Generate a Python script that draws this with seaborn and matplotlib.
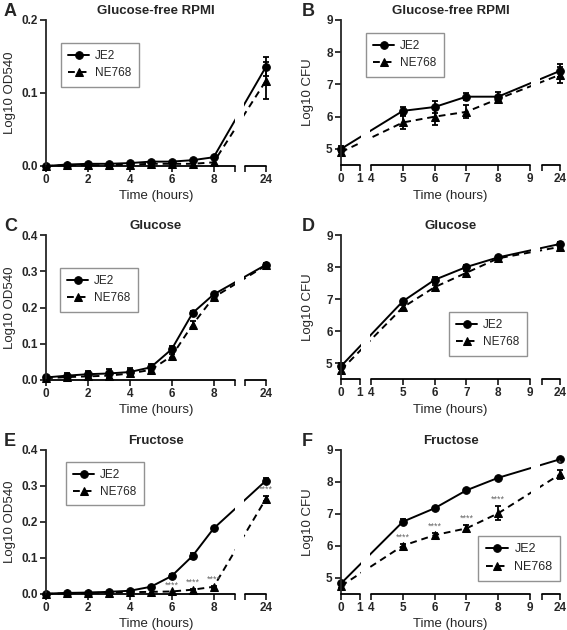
import numpy as np
import pandas as pd
import seaborn as sns
import matplotlib.pyplot as plt

# time points (hours)
t_od = [0, 1, 2, 3, 4, 5, 6, 7, 8, 24]
t_cfu = [0, 5, 6, 7, 8, 24]

# A: glucose-free RPMI, OD540
a_je2 = [0.0, 0.002, 0.003, 0.003, 0.004, 0.006, 0.006, 0.008, 0.012, 0.136]
a_je2_err = [0, 0, 0, 0, 0, 0, 0, 0, 0, 0.013]
a_ne = [0.0, 0.001, 0.001, 0.001, 0.002, 0.003, 0.003, 0.003, 0.005, 0.117]
a_ne_err = [0, 0, 0, 0, 0, 0, 0, 0, 0, 0.025]

# B: glucose-free RPMI, CFU
b_je2 = [5.0, 6.18, 6.3, 6.62, 6.62, 7.42]
b_je2_err = [0.1, 0.12, 0.2, 0.1, 0.15, 0.2]
b_ne = [4.9, 5.82, 6.0, 6.15, 6.55, 7.3]
b_ne_err = [0.1, 0.2, 0.25, 0.2, 0.1, 0.25]

# C: glucose, OD540
c_je2 = [0.007, 0.012, 0.016, 0.018, 0.022, 0.035, 0.085, 0.185, 0.236, 0.318]
c_je2_err = [0.005, 0.008, 0.01, 0.012, 0.01, 0.01, 0.008, 0.004, 0.004, 0.004]
c_ne = [0.005, 0.008, 0.01, 0.012, 0.018, 0.028, 0.066, 0.153, 0.228, 0.316]
c_ne_err = [0.004, 0.006, 0.008, 0.01, 0.01, 0.008, 0.006, 0.01, 0.005, 0.004]

# D: glucose, CFU
d_je2 = [4.9, 6.93, 7.6, 8.0, 8.3, 8.72]
d_je2_err = [0.1, 0.05, 0.1, 0.05, 0.05, 0.05]
d_ne = [4.78, 6.74, 7.37, 7.82, 8.27, 8.63]
d_ne_err = [0.1, 0.06, 0.08, 0.06, 0.05, 0.05]

# E: fructose, OD540
e_je2 = [0.001, 0.003, 0.004, 0.006, 0.009, 0.02, 0.05, 0.106, 0.182, 0.315]
e_je2_err = [0, 0, 0, 0, 0, 0.002, 0.006, 0.008, 0.003, 0.006]
e_ne = [0.0, 0.002, 0.003, 0.004, 0.005, 0.006, 0.007, 0.012, 0.02, 0.265]
e_ne_err = [0, 0, 0, 0, 0, 0, 0, 0.002, 0.002, 0.008]
e_stars = [6, 7, 8, 24]
e_star_labels = ['****', '****', '****', '****']

# F: fructose, CFU
f_je2 = [4.83, 6.76, 7.18, 7.74, 8.13, 8.71]
f_je2_err = [0.05, 0.07, 0.04, 0.03, 0.03, 0.03]
f_ne = [4.75, 6.01, 6.34, 6.55, 7.02, 8.24]
f_ne_err = [0.06, 0.05, 0.08, 0.12, 0.22, 0.14]
f_stars = [5, 6, 7, 8, 24]
f_star_labels = ['****', '****', '****', '****', '*']

sns.set_style('ticks')
plt.rcParams['font.family'] = ['Liberation Sans', 'DejaVu Sans']

W, H = 567, 630
fig = plt.figure(figsize=(W / 100, H / 100), dpi=100)


def make_scale(tp, up):
    tp = np.array(tp, float)
    up = np.array(up, float)
    fwd = lambda x: np.interp(np.asarray(x, float), tp, up)
    inv = lambda u: np.interp(np.asarray(u, float), up, tp)
    return fwd, inv


scale_od = make_scale([-10, 0, 9, 23, 24, 40], [-10, 0, 9, 9.5, 10.5, 26.5])
scale_cfu = make_scale([-10, 0, 1, 4, 9, 23, 24, 40],
                       [-6, 0, 0.6, 0.95, 5.95, 6.32, 6.9, 16.18])


def panel(rect, letter, title, times, je2, je2_err, ne, ne_err, kind,
          leg_anchor, leg_loc='upper left', leg_size=8.5, stars=None,
          star_labels=None):
    x0, y0, x1, y1 = rect
    ax = fig.add_axes([x0 / W, 1 - y1 / H, (x1 - x0) / W, (y1 - y0) / H])
    fwd, inv = scale_od if kind == 'od' else scale_cfu
    ax.set_xscale('function', functions=(fwd, inv))

    sns.lineplot(x=times, y=je2, ax=ax, color='black', marker='o',
                 markersize=5.5, markeredgecolor='black', linewidth=1.4,
                 label='JE2', clip_on=False)
    sns.lineplot(x=times, y=ne, ax=ax, color='black', marker='^',
                 markersize=5.5, markeredgecolor='black', linewidth=1.4,
                 linestyle=(0, (3.5, 2.5)), label='NE768', clip_on=False)
    for vals, errs in [(je2, je2_err), (ne, ne_err)]:
        idx = [i for i, e in enumerate(errs) if e > 0]
        ax.errorbar([times[i] for i in idx], [vals[i] for i in idx],
                    yerr=[errs[i] for i in idx], fmt='none', ecolor='black',
                    elinewidth=1.3, capsize=2.5, capthick=1.3, clip_on=False)

    if kind == 'od':
        segs = [(0, 9), (23, 24)]
        xt = [0, 2, 4, 6, 8, 9, 23, 24]
        xl = ['0', '2', '4', '6', '8', '', '', '24']
        top = 0.2 if letter == 'A' else 0.4
        ax.set_ylim(0, top)
        yt = list(np.round(np.arange(0, top + 0.001, 0.1), 1))
        ax.set_yticks(yt)
        ax.set_yticklabels([f'{v:.1f}' for v in yt])
        ax.set_ylabel('Log10 OD540', fontsize=9.5, labelpad=4)
    else:
        segs = [(0, 1), (4, 9), (23, 24)]
        xt = [0, 1, 4, 5, 6, 7, 8, 9, 23, 24]
        xl = ['0', '1', '4', '5', '6', '7', '8', '9', '', '24']
        ax.set_ylim(4.5, 9)
        ax.set_yticks([5, 6, 7, 8, 9])
        ax.set_yticklabels(['5', '6', '7', '8', '9'])
        ax.set_ylabel('Log10 CFU', fontsize=9.5, labelpad=9)
    ax.set_xlim(0, 24)
    ax.set_xticks(xt)
    ax.set_xticklabels(xl)
    ax.set_xlabel('Time (hours)', fontsize=9.5, labelpad=3)

    # broken x axis
    ax.spines['bottom'].set_visible(False)
    for s in ['top', 'right']:
        ax.spines[s].set_visible(False)
    ax.spines['left'].set_linewidth(1.3)
    for a, b in segs:
        ax.plot([a, b], [0, 0], transform=ax.get_xaxis_transform(),
                color='black', lw=1.3, clip_on=False, zorder=3)
    for (a, b), (c, d) in zip(segs[:-1], segs[1:]):
        lo = float(inv(fwd(b) + 0.04))
        hi = float(inv(fwd(c) - 0.04))
        ax.axvspan(lo, hi, color='white', lw=0, zorder=2.6)

    ax.tick_params(direction='out', length=4, width=1.3, labelsize=8.5, pad=2)
    for lab in ax.get_xticklabels() + ax.get_yticklabels():
        lab.set_fontweight('bold')

    if stars:
        dy = 0.015 * (ax.get_ylim()[1] - ax.get_ylim()[0])
        for t, s in zip(stars, star_labels):
            i = times.index(t)
            ax.text(t, ne[i] + ne_err[i] + dy, s, ha='center',
                    va='bottom', fontsize=6.5, color='#666666', zorder=4,
                    clip_on=False)

    leg = ax.legend(loc=leg_loc, bbox_to_anchor=leg_anchor,
                    borderaxespad=0, fontsize=leg_size, frameon=True,
                    fancybox=False, handlelength=1.8, borderpad=0.6,
                    labelspacing=0.45, handletextpad=0.5)
    leg.get_frame().set_edgecolor('#777777')
    leg.get_frame().set_linewidth(1.0)
    leg.set_zorder(5)

    ax.set_title(title, fontsize=9.5, fontweight='bold', pad=4)
    fig.text((4 if x0 < 200 else 302) / W, 1 - (y0 - 9) / H, letter,
             fontsize=13, fontweight='bold', ha='left', va='center')
    return ax


panel((46, 20, 266, 166), 'A', 'Glucose-free RPMI', t_od, a_je2, a_je2_err,
      a_ne, a_ne_err, 'od', (0.068, 0.842))
panel((341, 20, 560, 165), 'B', 'Glucose-free RPMI', t_cfu, b_je2, b_je2_err,
      b_ne, b_ne_err, 'cfu', (0.114, 0.91))
panel((46, 235, 266, 380), 'C', 'Glucose', t_od, c_je2, c_je2_err,
      c_ne, c_ne_err, 'od', (0.064, 0.772))
panel((341, 235, 560, 379), 'D', 'Glucose', t_cfu, d_je2, d_je2_err,
      d_ne, d_ne_err, 'cfu', (0.493, 0.465))
panel((46, 450, 266, 594), 'E', 'Fructose', t_od, e_je2, e_je2_err,
      e_ne, e_ne_err, 'od', (0.091, 0.917), stars=e_stars,
      star_labels=e_star_labels)
panel((341, 450, 560, 594), 'F', 'Fructose', t_cfu, f_je2, f_je2_err,
      f_ne, f_ne_err, 'cfu', (1.0, 0.403), leg_loc='upper right',
      leg_size=9, stars=f_stars, star_labels=f_star_labels)

fig.savefig('out.png', dpi=100)
